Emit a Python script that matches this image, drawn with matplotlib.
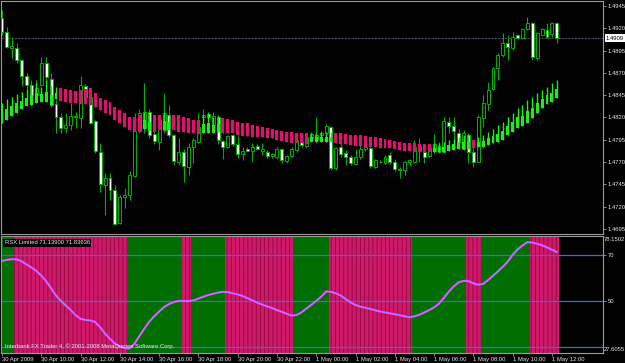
import matplotlib
matplotlib.use("Agg")
import matplotlib.pyplot as plt
from matplotlib.patches import Rectangle
import matplotlib.transforms as mtransforms

# ---------------- data (M15 bars, 30 Apr 08:00 -> 1 May 12:15) ----------------
opens = [1.4932, 1.4916, 1.4898, 1.4898, 1.4884, 1.4867, 1.4856, 1.4845, 1.4856, 1.4881,
         1.4863, 1.4835, 1.4820, 1.4808, 1.4812, 1.4822, 1.4819, 1.4855, 1.4843, 1.4816,
         1.4781, 1.4744, 1.4752, 1.4739, 1.4702, 1.4731, 1.4733, 1.4754, 1.4805, 1.4808,
         1.4826, 1.4801, 1.4793, 1.4806, 1.4823, 1.4800, 1.4770, 1.4781, 1.4764, 1.4787,
         1.4793, 1.4820, 1.4824, 1.4812, 1.4821, 1.4794, 1.4787, 1.4800, 1.4790, 1.4779,
         1.4785, 1.4783, 1.4788, 1.4782, 1.4781, 1.4777, 1.4776, 1.4785, 1.4771, 1.4777,
         1.4784, 1.4793, 1.4788, 1.4797, 1.4795, 1.4800, 1.4803, 1.4809, 1.4763, 1.4787,
         1.4780, 1.4776, 1.4768, 1.4776, 1.4785, 1.4786, 1.4764, 1.4770, 1.4769, 1.4778,
         1.4770, 1.4762, 1.4761, 1.4770, 1.4770, 1.4782, 1.4781, 1.4777, 1.4783, 1.4781,
         1.4781, 1.4815, 1.4810, 1.4803, 1.4785, 1.4800, 1.4781, 1.4770, 1.4819, 1.4835,
         1.4852, 1.4876, 1.4890, 1.4904, 1.4898, 1.4912, 1.4909, 1.4919, 1.4926, 1.4887,
         1.4913, 1.4918, 1.4914, 1.4926]
highs = [1.4940, 1.4921, 1.4910, 1.4904, 1.4886, 1.4870, 1.4862, 1.4862, 1.4888, 1.4888,
         1.4870, 1.4840, 1.4825, 1.4825, 1.4836, 1.4826, 1.4866, 1.4858, 1.4846, 1.4817,
         1.4791, 1.4758, 1.4758, 1.4744, 1.4733, 1.4741, 1.4760, 1.4825, 1.4830, 1.4859,
         1.4830, 1.4805, 1.4820, 1.4847, 1.4834, 1.4801, 1.4797, 1.4785, 1.4791, 1.4797,
         1.4825, 1.4829, 1.4826, 1.4826, 1.4823, 1.4795, 1.4800, 1.4801, 1.4800, 1.4787,
         1.4787, 1.4791, 1.4790, 1.4791, 1.4784, 1.4780, 1.4787, 1.4786, 1.4778, 1.4787,
         1.4796, 1.4795, 1.4800, 1.4804, 1.4820, 1.4805, 1.4813, 1.4810, 1.4787, 1.4790,
         1.4784, 1.4778, 1.4785, 1.4790, 1.4790, 1.4787, 1.4773, 1.4772, 1.4778, 1.4781,
         1.4773, 1.4764, 1.4771, 1.4773, 1.4795, 1.4797, 1.4787, 1.4787, 1.4801, 1.4792,
         1.4821, 1.4820, 1.4821, 1.4807, 1.4806, 1.4803, 1.4787, 1.4823, 1.4845, 1.4860,
         1.4877, 1.4892, 1.4915, 1.4912, 1.4916, 1.4914, 1.4920, 1.4933, 1.4927, 1.4916,
         1.4920, 1.4926, 1.4927, 1.4927]
lows = [1.4912, 1.4898, 1.4887, 1.4881, 1.4855, 1.4844, 1.4834, 1.4837, 1.4855, 1.4860,
        1.4832, 1.4803, 1.4803, 1.4803, 1.4806, 1.4808, 1.4808, 1.4836, 1.4813, 1.4780,
        1.4737, 1.4711, 1.4727, 1.4700, 1.4701, 1.4719, 1.4727, 1.4753, 1.4803, 1.4803,
        1.4797, 1.4790, 1.4784, 1.4803, 1.4798, 1.4767, 1.4767, 1.4748, 1.4756, 1.4769,
        1.4791, 1.4803, 1.4803, 1.4808, 1.4790, 1.4774, 1.4786, 1.4788, 1.4775, 1.4772,
        1.4782, 1.4770, 1.4785, 1.4778, 1.4775, 1.4775, 1.4773, 1.4769, 1.4769, 1.4776,
        1.4783, 1.4787, 1.4786, 1.4795, 1.4792, 1.4794, 1.4792, 1.4761, 1.4761, 1.4776,
        1.4767, 1.4767, 1.4767, 1.4774, 1.4783, 1.4763, 1.4763, 1.4769, 1.4768, 1.4768,
        1.4760, 1.4752, 1.4755, 1.4766, 1.4769, 1.4770, 1.4769, 1.4776, 1.4780, 1.4780,
        1.4780, 1.4803, 1.4787, 1.4791, 1.4784, 1.4769, 1.4765, 1.4770, 1.4809, 1.4828,
        1.4851, 1.4862, 1.4888, 1.4884, 1.4896, 1.4908, 1.4908, 1.4918, 1.4884, 1.4885,
        1.4911, 1.4909, 1.4910, 1.4903]
closes = [1.4916, 1.4899, 1.4900, 1.4884, 1.4867, 1.4856, 1.4845, 1.4853, 1.4881, 1.4865,
          1.4834, 1.4820, 1.4808, 1.4812, 1.4822, 1.4820, 1.4856, 1.4843, 1.4814, 1.4783,
          1.4746, 1.4752, 1.4739, 1.4701, 1.4731, 1.4733, 1.4756, 1.4805, 1.4825, 1.4826,
          1.4800, 1.4794, 1.4817, 1.4825, 1.4800, 1.4771, 1.4781, 1.4766, 1.4787, 1.4795,
          1.4809, 1.4823, 1.4821, 1.4822, 1.4795, 1.4787, 1.4799, 1.4790, 1.4779, 1.4783,
          1.4783, 1.4787, 1.4785, 1.4785, 1.4777, 1.4779, 1.4785, 1.4772, 1.4777, 1.4785,
          1.4795, 1.4789, 1.4798, 1.4802, 1.4800, 1.4803, 1.4810, 1.4763, 1.4786, 1.4779,
          1.4776, 1.4769, 1.4776, 1.4785, 1.4787, 1.4766, 1.4772, 1.4770, 1.4776, 1.4770,
          1.4762, 1.4761, 1.4770, 1.4772, 1.4787, 1.4788, 1.4776, 1.4786, 1.4790, 1.4788,
          1.4816, 1.4810, 1.4805, 1.4793, 1.4803, 1.4781, 1.4770, 1.4820, 1.4836, 1.4851,
          1.4876, 1.4890, 1.4904, 1.4899, 1.4910, 1.4909, 1.4919, 1.4926, 1.4888, 1.4915,
          1.4919, 1.4910, 1.4926, 1.4909]

# smoothed Heiken-Ashi style overlay
ha_high = [1.4836, 1.4841, 1.4843, 1.4846, 1.4849, 1.4852, 1.4856, 1.4859, 1.4854, 1.4862,
           1.4855, 1.4854, 1.4853, 1.4852, 1.4851, 1.4850, 1.4851, 1.4852, 1.4853, 1.4847,
           1.4842, 1.4840, 1.4837, 1.4832, 1.4828, 1.4825, 1.4820, 1.4820, 1.4823, 1.4826,
           1.4825, 1.4823, 1.4823, 1.4825, 1.4823, 1.4823, 1.4823, 1.4820, 1.4819, 1.4817,
           1.4817, 1.4823, 1.4825, 1.4820, 1.4822, 1.4819, 1.4818, 1.4817, 1.4815, 1.4814,
           1.4814, 1.4812, 1.4810, 1.4809, 1.4808, 1.4807, 1.4806, 1.4805, 1.4804, 1.4804,
           1.4803, 1.4803, 1.4803, 1.4803, 1.4803, 1.4804, 1.4804, 1.4804, 1.4803, 1.4803,
           1.4801, 1.4800, 1.4800, 1.4800, 1.4799, 1.4798, 1.4798, 1.4797, 1.4796, 1.4795,
           1.4794, 1.4792, 1.4791, 1.4791, 1.4791, 1.4790, 1.4790, 1.4790, 1.4791, 1.4791,
           1.4792, 1.4795, 1.4796, 1.4798, 1.4800, 1.4801, 1.4795, 1.4798, 1.4800, 1.4804,
           1.4807, 1.4812, 1.4815, 1.4820, 1.4825, 1.4831, 1.4834, 1.4840, 1.4843, 1.4847,
           1.4851, 1.4854, 1.4859, 1.4862]
ha_low = [1.4814, 1.4817, 1.4822, 1.4825, 1.4829, 1.4833, 1.4834, 1.4836, 1.4837, 1.4837,
          1.4834, 1.4841, 1.4838, 1.4837, 1.4836, 1.4836, 1.4835, 1.4835, 1.4834, 1.4832,
          1.4828, 1.4825, 1.4823, 1.4817, 1.4814, 1.4809, 1.4806, 1.4805, 1.4805, 1.4807,
          1.4805, 1.4804, 1.4806, 1.4806, 1.4806, 1.4806, 1.4804, 1.4804, 1.4803, 1.4803,
          1.4801, 1.4803, 1.4803, 1.4803, 1.4804, 1.4803, 1.4803, 1.4803, 1.4800, 1.4799,
          1.4799, 1.4798, 1.4798, 1.4798, 1.4797, 1.4797, 1.4795, 1.4794, 1.4792, 1.4791,
          1.4791, 1.4791, 1.4790, 1.4792, 1.4792, 1.4792, 1.4792, 1.4792, 1.4791, 1.4790,
          1.4790, 1.4789, 1.4788, 1.4788, 1.4787, 1.4787, 1.4787, 1.4786, 1.4786, 1.4786,
          1.4785, 1.4784, 1.4782, 1.4782, 1.4781, 1.4781, 1.4781, 1.4781, 1.4781, 1.4781,
          1.4781, 1.4782, 1.4784, 1.4785, 1.4785, 1.4785, 1.4786, 1.4787, 1.4787, 1.4789,
          1.4791, 1.4792, 1.4795, 1.4800, 1.4804, 1.4808, 1.4810, 1.4814, 1.4819, 1.4825,
          1.4831, 1.4835, 1.4837, 1.4842]
ha_body_top = [1.4826, 1.4830, 1.4833, 1.4836, 1.4839, 1.4842, 1.4845, 1.4847, 1.4846, 1.4849,
               1.4845, 1.4848, 1.4853, 1.4852, 1.4851, 1.4850, 1.4851, 1.4852, 1.4853, 1.4847,
               1.4842, 1.4840, 1.4837, 1.4832, 1.4828, 1.4825, 1.4820, 1.4820, 1.4823, 1.4817,
               1.4815, 1.4823, 1.4823, 1.4816, 1.4815, 1.4823, 1.4823, 1.4820, 1.4819, 1.4817,
               1.4817, 1.4813, 1.4814, 1.4812, 1.4813, 1.4819, 1.4818, 1.4817, 1.4815, 1.4814,
               1.4814, 1.4812, 1.4810, 1.4809, 1.4808, 1.4807, 1.4806, 1.4805, 1.4804, 1.4804,
               1.4803, 1.4803, 1.4803, 1.4798, 1.4798, 1.4798, 1.4798, 1.4798, 1.4803, 1.4803,
               1.4801, 1.4800, 1.4800, 1.4800, 1.4799, 1.4798, 1.4798, 1.4797, 1.4796, 1.4795,
               1.4794, 1.4792, 1.4791, 1.4791, 1.4791, 1.4790, 1.4790, 1.4790, 1.4786, 1.4786,
               1.4787, 1.4789, 1.4790, 1.4792, 1.4793, 1.4793, 1.4795, 1.4793, 1.4794, 1.4797,
               1.4799, 1.4802, 1.4805, 1.4810, 1.4815, 1.4820, 1.4822, 1.4827, 1.4831, 1.4836,
               1.4841, 1.4845, 1.4848, 1.4852]
ha_up = [1] * 12 + [0] * 17 + [1] * 2 + [0] * 2 + [1] * 2 + [0] * 6 + [1] * 4 + \
        [0] * 18 + [1] * 5 + [0] * 20 + [1] * 8 + [0] * 1 + [1] * 17

# RSX oscillator
rsx = [67.3, 67.8, 68.1, 68.0, 67.2, 65.8, 64.5, 63.0, 61.0, 58.5,
       55.5, 52.3, 50.0, 48.0, 46.0, 43.8, 42.2, 41.7, 41.5, 40.8,
       38.5, 35.8, 33.5, 31.5, 30.2, 29.5, 29.4, 31.5, 34.8, 38.0,
       41.0, 43.3, 45.4, 47.3, 48.6, 49.5, 50.0, 49.95, 49.9, 50.2,
       51.0, 51.8, 52.5, 53.1, 53.6, 53.9, 53.8, 53.3, 52.8, 52.1,
       51.2, 50.2, 49.2, 48.4, 47.6, 46.9, 46.0, 45.2, 44.4, 43.6,
       43.9, 45.0, 46.7, 48.3, 50.0, 51.8, 54.1, 53.9, 53.3, 52.3,
       50.8, 49.3, 48.2, 47.5, 47.0, 46.5, 45.9, 45.4, 45.0, 44.6,
       44.2, 43.8, 43.3, 42.9, 43.3, 44.0, 45.0, 46.0, 47.2, 48.8,
       51.3, 54.0, 56.3, 58.0, 58.7, 58.6, 57.6, 57.0, 57.4, 59.0,
       60.9, 62.8, 64.8, 67.0, 70.0, 72.3, 74.0, 75.5, 75.3, 74.8,
       74.1, 73.2, 72.2, 71.139]
rsx_signal_last = 71.83636
rsx_up = [1] * 3 + [0] * 23 + [1] * 11 + [0] * 2 + [1] * 7 + [0] * 14 + [1] * 7 + \
         [0] * 17 + [1] * 11 + [0] * 3 + [1] * 10 + [0] * 6
rsx_levels = [70, 50, 30]
rsx_min, rsx_max = 27.6055, 78.1502

time_labels = ["30 Apr 2009", "30 Apr 10:00", "30 Apr 12:00", "30 Apr 14:00", "30 Apr 16:00",
               "30 Apr 18:00", "30 Apr 20:00", "30 Apr 22:00", "1 May 00:00", "1 May 02:00",
               "1 May 04:00", "1 May 06:00", "1 May 08:00", "1 May 10:00", "1 May 12:00"]
time_label_bars = [0, 8, 16, 24, 32, 40, 48, 56, 64, 72, 80, 88, 96, 104, 112]
price_ticks = [1.4945, 1.4920, 1.4895, 1.4870, 1.4845, 1.4820, 1.4795,
               1.4770, 1.4745, 1.4720, 1.4695]
current_price = 1.4909
price_top, price_bottom = 1.49506, 1.46894

# ---------------- style ----------------
BG = "#000000"
FRAME = "#9a9a9a"
TXT = "#e8e8e8"
CANDLE_G = "#00b000"
HA_G = "#19f019"
HA_M = "#e0106e"
ST_G = "#006e00"
ST_M = "#d0186a"
ST_M_HATCH = "#8c0a3c"
LEVEL = "#3c6cd0"
FONT = ["Liberation Sans", "DejaVu Sans"]
FS = 4.2

W, H = 625, 363
PX_PER_BAR = 4.91
X0 = 2.0

plt.rcParams["hatch.linewidth"] = 0.6


def rect(x0, y0, x1, y1):
    return [x0 / W, 1 - y1 / H, (x1 - x0) / W, (y1 - y0) / H]


fig = plt.figure(figsize=(W / 100, H / 100), dpi=100, facecolor=BG)
ax = fig.add_axes(rect(1, 1, 603, 234))
ax2 = fig.add_axes(rect(1, 236, 603, 352.5), sharex=ax)

xmin = (1 - X0) / PX_PER_BAR
xmax = (603 - X0) / PX_PER_BAR
n = len(opens)
idx = list(range(n))

for a in (ax, ax2):
    a.set_facecolor(BG)
    for s in a.spines.values():
        s.set_color(FRAME)
        s.set_linewidth(0.8)

# ---------------- main price panel ----------------
ax.axhline(current_price, color="#4a4a66", lw=0.8, ls=(0, (2, 1)), zorder=1)

ax.vlines(idx, lows, highs, color=CANDLE_G, lw=0.8, zorder=2)
for i in idx:
    o, c = opens[i], closes[i]
    bot, top = min(o, c), max(o, c)
    hgt = max(top - bot, 0.00003)
    face = "white" if c < o else "black"
    ax.add_patch(Rectangle((i - 0.3, bot), 0.6, hgt, facecolor=face,
                           edgecolor=CANDLE_G, lw=0.7, zorder=3))

for i in idx:
    col = HA_G if ha_up[i] else HA_M
    ax.vlines(i, ha_low[i], ha_high[i], color=col, lw=1.0, zorder=4)
    ax.add_patch(Rectangle((i - 0.3, ha_low[i]), 0.6, ha_body_top[i] - ha_low[i],
                           facecolor=col, edgecolor="none", zorder=5))

ax.set_xlim(xmin, xmax)
ax.set_ylim(price_bottom, price_top)
ax.yaxis.tick_right()
ax.set_yticks(price_ticks)
ax.set_yticklabels([f"{p:.4f}" for p in price_ticks], fontsize=FS, color=TXT, family=FONT)
ax.tick_params(axis="y", colors=FRAME, length=2, width=0.6, pad=1.5, labelcolor=TXT)
ax.tick_params(axis="x", bottom=False, labelbottom=False)

trans = mtransforms.blended_transform_factory(ax.transAxes, ax.transData)
ax.text(1.0045, current_price, f"{current_price:.4f}", transform=trans, ha="left", va="center",
        fontsize=FS, color="black", family=FONT,
        bbox=dict(boxstyle="square,pad=0.2", facecolor="white", edgecolor="none"), zorder=10,
        clip_on=False)

# ---------------- RSX panel ----------------
for i in idx:
    if rsx_up[i]:
        ax2.bar(i, rsx_max - rsx_min, bottom=rsx_min, width=1.0,
                color=ST_G, edgecolor="none", zorder=1)
    else:
        ax2.bar(i, rsx_max - rsx_min, bottom=rsx_min, width=1.0,
                facecolor=ST_M, edgecolor=ST_M_HATCH, hatch="||||", lw=0, zorder=1)
for lv in rsx_levels:
    ax2.axhline(lv, color=LEVEL, lw=0.9, zorder=2)
ax2.plot(idx, rsx, color="#ff30ff", lw=1.6, zorder=3, solid_capstyle="round")
ax2.plot(idx, rsx, color="#60b8ff", lw=0.5, zorder=4)

ax2.set_ylim(rsx_min, rsx_max)
ax2.yaxis.tick_right()
ax2.set_yticks([70, 50])
ax2.set_yticklabels(["70", "50"], fontsize=FS, color=TXT, family=FONT)
ax2.tick_params(axis="y", colors=FRAME, length=2, width=0.6, pad=1.5, labelcolor=TXT)
ax2.text(1.0018, 0.995, f"{rsx_max:.4f}", transform=ax2.transAxes, ha="left", va="top",
         fontsize=FS, color=TXT, family=FONT)
ax2.text(1.0018, 0.005, f"{rsx_min:.4f}", transform=ax2.transAxes, ha="left", va="bottom",
         fontsize=FS, color=TXT, family=FONT)

ax2.set_xticks(time_label_bars)
ax2.set_xticklabels(time_labels, fontsize=FS, color=TXT, family=FONT, ha="left")
ax2.tick_params(axis="x", colors=FRAME, length=2, width=0.6, pad=1, labelcolor=TXT)
ax2.set_xlim(xmin, xmax)

ax2.text(0.006, 0.965, f"RSX Limited {rsx[-1]:.5f} {rsx_signal_last:.5f}", transform=ax2.transAxes,
         ha="left", va="top", fontsize=FS, color=TXT, family=FONT, zorder=10,
         bbox=dict(boxstyle="square,pad=0.25", facecolor="black", edgecolor="none"))
ax2.text(0.006, 0.03, "Interbank FX Trader 4, \u00a9 2001-2008 MetaQuotes Software Corp.",
         transform=ax2.transAxes, ha="left", va="bottom", fontsize=FS, color=TXT,
         family=FONT, zorder=10)

fig.savefig("out.png", dpi=100, facecolor=BG)
